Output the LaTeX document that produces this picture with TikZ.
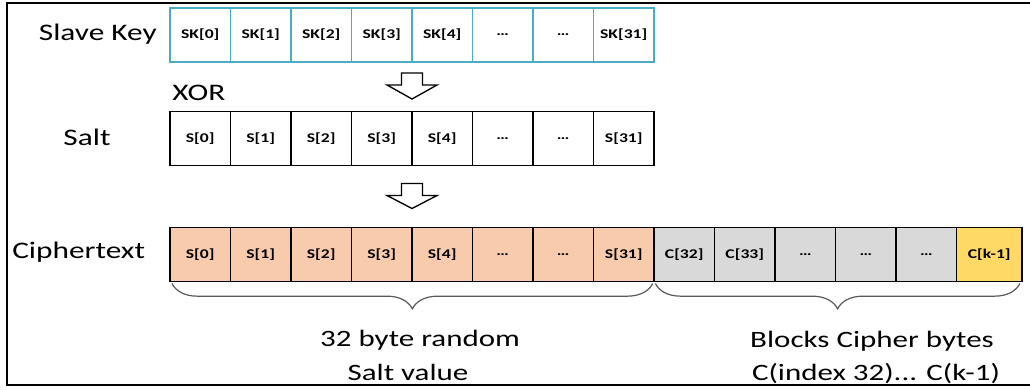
\documentclass[tikz,border=0pt]{standalone}
\usepackage{fontspec}
\setmainfont{Carlito}[FakeStretch=1.32]
\usepackage{xcolor}
\definecolor{keyblue}{RGB}{75,172,198}
\definecolor{saltfill}{RGB}{248,203,173}
\definecolor{cipherfill}{RGB}{217,217,217}
\definecolor{lastfill}{RGB}{255,217,102}
\usepackage{tikz}
\usetikzlibrary{calc,positioning,decorations.pathreplacing}

\begin{document}
\begin{tikzpicture}[x=0.75pt,y=-0.75pt,
    cell/.style={draw,line width=1.4pt,outer sep=0pt,inner sep=0pt,
      minimum width=45.4pt,minimum height=40.5pt,
      font=\bfseries\fontsize{10}{12}\selectfont},
    keycell/.style={cell,draw=keyblue},
    rowlabel/.style={inner sep=0pt,font=\fontsize{17.8}{21}\selectfont},
    note/.style={inner sep=0pt,font=\fontsize{17.6}{20}\selectfont},
    xorarrow/.style={draw,line width=1pt,fill=white,line join=miter},
    bytebrace/.style={decorate,decoration={brace,mirror,amplitude=19pt},
      draw=black!65,line width=0.9pt}]
    % Frame (open on the right)
    \useasboundingbox (0,0) rectangle (1030,389);
    \draw[line width=2.2pt] (1030,3) -- (7,3) -- (7,385) -- (1030,385);
    % Parameters
    \def\cw{60.5}
    \def\lx{170}
    % Slave key
    \foreach \lbl [count=\i] in {SK[0],SK[1],SK[2],SK[3],SK[4],\dots,\dots,SK[31]}
      \node[keycell] (sk\i) at ({\lx+\cw*(\i-0.5)},35) {\lbl};
    % Salt
    \foreach \lbl [count=\i] in {S[0],S[1],S[2],S[3],S[4],\dots,\dots,S[31]}
      \node[cell] (salt\i) at ({\lx+\cw*(\i-0.5)},138.5) {\lbl};
    % Ciphertext: salt bytes, then cipher blocks
    \foreach \lbl [count=\i] in {S[0],S[1],S[2],S[3],S[4],\dots,\dots,S[31]}
      \node[cell,fill=saltfill] (ct\i) at ({\lx+\cw*(\i-0.5)},254.5) {\lbl};
    \foreach \lbl [count=\i from 9] in {C[32],C[33],\dots,\dots,\dots}
      \node[cell,fill=cipherfill] (ct\i) at ({\lx+\cw*(\i-0.5)},254.5) {\lbl};
    \node[cell,fill=lastfill,minimum width=49pt,right=0pt of ct13] (ct14) {C[k-1]};
    % Row labels
    \node[rowlabel,anchor=base east] (keylbl) at (157,40) {Slave Key};
    \node[rowlabel,anchor=base west] (xorlbl) at (172,100) {XOR};
    \node[rowlabel,anchor=base] (saltlbl) at (87,145) {Salt};
    \node[rowlabel,anchor=base west] (ctlbl) at (12,258) {Ciphertext};
    % Block arrows
    \draw[xorarrow] ($(sk4.south east)+(-10.5,11)$) -- ++(21,0) -- ++(0,12)
      -- ++(14.5,0) -- ++(-25,14) -- ++(-25,-14) -- ++(14.5,0) -- cycle;
    \draw[xorarrow] ($(salt4.south east)+(-10.5,18)$) -- ++(21,0) -- ++(0,12)
      -- ++(14.5,0) -- ++(-25,13) -- ++(-25,-13) -- ++(14.5,0) -- cycle;
    % Braces
    \draw[bytebrace] ([xshift=1.5pt,yshift=-1.5pt]ct1.south west)
      -- ([xshift=-1pt,yshift=-1.5pt]ct8.south east);
    \draw[bytebrace] ([xshift=1pt,yshift=-1.5pt]ct8.south east)
      -- ([xshift=-1.5pt,yshift=-1.5pt]ct14.south east);
    \node[note,anchor=base] (saltnote) at (420,346) {32 byte random};
    \node[note,anchor=base] (saltnote2) at (408,380) {Salt value};
    \node[note,anchor=base] (blocknote) at (872,347) {Blocks Cipher bytes};
    \node[note,anchor=base] (blocknote2) at (876,380) {C(index 32)... C(k-1)};
\end{tikzpicture}
\end{document}
